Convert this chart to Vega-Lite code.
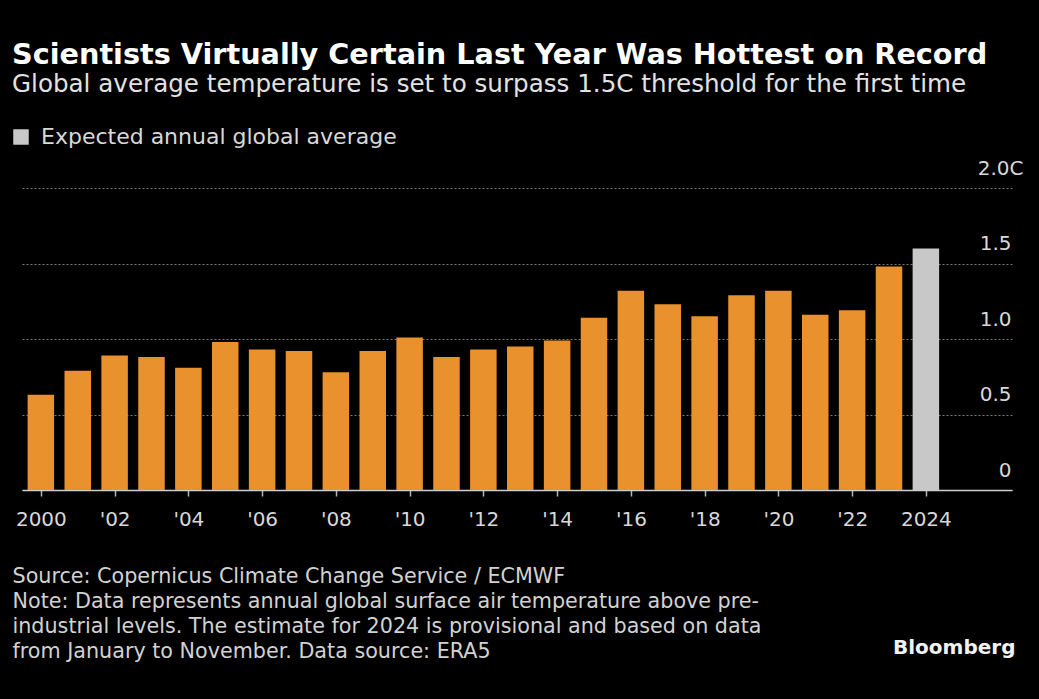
{
  "$schema": "https://vega.github.io/schema/vega-lite/v6.json",
  "width": 990,
  "height": 302,
  "autosize": {"type": "none"},
  "padding": {"left": 22, "top": 188, "right": 27, "bottom": 209},
  "background": "#000000",
  "title": {
    "text": "Scientists Virtually Certain Last Year Was Hottest on Record",
    "subtitle": "Global average temperature is set to surpass 1.5C threshold for the first time",
    "anchor": "start",
    "frame": "group",
    "dx": -10,
    "offset": 29,
    "font": "DejaVu Sans",
    "fontSize": 28.7,
    "fontWeight": "bold",
    "color": "#ffffff",
    "subtitleFont": "DejaVu Sans",
    "subtitleFontSize": 24.6,
    "subtitleColor": "#e2e2e2",
    "subtitlePadding": 4
  },
  "data": {
    "values": [
      {"year": 2000, "temp": 0.63, "kind": "Actual"},
      {"year": 2001, "temp": 0.79, "kind": "Actual"},
      {"year": 2002, "temp": 0.89, "kind": "Actual"},
      {"year": 2003, "temp": 0.88, "kind": "Actual"},
      {"year": 2004, "temp": 0.81, "kind": "Actual"},
      {"year": 2005, "temp": 0.98, "kind": "Actual"},
      {"year": 2006, "temp": 0.93, "kind": "Actual"},
      {"year": 2007, "temp": 0.92, "kind": "Actual"},
      {"year": 2008, "temp": 0.78, "kind": "Actual"},
      {"year": 2009, "temp": 0.92, "kind": "Actual"},
      {"year": 2010, "temp": 1.01, "kind": "Actual"},
      {"year": 2011, "temp": 0.88, "kind": "Actual"},
      {"year": 2012, "temp": 0.93, "kind": "Actual"},
      {"year": 2013, "temp": 0.95, "kind": "Actual"},
      {"year": 2014, "temp": 0.99, "kind": "Actual"},
      {"year": 2015, "temp": 1.14, "kind": "Actual"},
      {"year": 2016, "temp": 1.32, "kind": "Actual"},
      {"year": 2017, "temp": 1.23, "kind": "Actual"},
      {"year": 2018, "temp": 1.15, "kind": "Actual"},
      {"year": 2019, "temp": 1.29, "kind": "Actual"},
      {"year": 2020, "temp": 1.32, "kind": "Actual"},
      {"year": 2021, "temp": 1.16, "kind": "Actual"},
      {"year": 2022, "temp": 1.19, "kind": "Actual"},
      {"year": 2023, "temp": 1.48, "kind": "Actual"},
      {"year": 2024, "temp": 1.60, "kind": "Expected annual global average"}
    ]
  },
  "mark": {"type": "bar", "width": 26.5},
  "encoding": {
    "x": {
      "field": "year",
      "type": "quantitative",
      "scale": {"domain": [1999.624, 2026.2], "nice": false, "zero": false},
      "axis": {
        "values": [2000, 2002, 2004, 2006, 2008, 2010, 2012, 2014, 2016, 2018, 2020, 2022, 2024],
        "labelExpr": "datum.value == 2000 || datum.value == 2024 ? toString(datum.value) : \"'\" + substring(toString(datum.value), 2, 4)",
        "grid": false,
        "domainColor": "#cfcfcf",
        "domainWidth": 1.5,
        "tickColor": "#b5b5b5",
        "tickWidth": 1.5,
        "tickSize": 6,
        "labelFont": "DejaVu Sans",
        "labelFontSize": 20,
        "labelColor": "#d8d8d8",
        "labelPadding": 13,
        "labelFlush": false,
        "labelOverlap": false,
        "title": [
          "Source: Copernicus Climate Change Service / ECMWF",
          "Note: Data represents annual global surface air temperature above pre-",
          "industrial levels. The estimate for 2024 is provisional and based on data",
          "from January to November. Data source: ERA5"
        ],
        "titleFont": "DejaVu Sans",
        "titleFontSize": 20.7,
        "titleFontWeight": "normal",
        "titleColor": "#d2d2d2",
        "titleLineHeight": 25,
        "titleAnchor": "start",
        "titleAlign": "left",
        "titleBaseline": "top",
        "titleX": -10,
        "titleY": 76
      }
    },
    "y": {
      "field": "temp",
      "type": "quantitative",
      "scale": {"domain": [0, 2], "nice": false},
      "axis": {
        "orient": "right",
        "values": [0, 0.5, 1, 1.5, 2],
        "labelExpr": "datum.value == 2 ? '2.0C' : datum.value == 0 ? '0' : format(datum.value, '.1f')",
        "domain": false,
        "ticks": false,
        "grid": true,
        "gridColor": "#7a7a7a",
        "gridDash": [2, 2],
        "gridWidth": 1,
        "labelAlign": "right",
        "labelBaseline": "alphabetic",
        "labelOffset": -14,
        "labelPadding": {"condition": {"test": "datum.value == 2", "value": 11}, "value": -1},
        "labelFont": "DejaVu Sans",
        "labelFontSize": 20,
        "labelColor": "#d8d8d8",
        "labelFlush": false,
        "title": "Bloomberg",
        "titleFont": "DejaVu Sans",
        "titleFontSize": 20,
        "titleFontWeight": "bold",
        "titleColor": "#f2f2f2",
        "titleAngle": 0,
        "titleAlign": "right",
        "titleBaseline": "middle",
        "titleX": 3,
        "titleY": 459
      }
    },
    "color": {
      "field": "kind",
      "type": "nominal",
      "scale": {
        "domain": ["Actual", "Expected annual global average"],
        "range": ["#E8912D", "#C8C8C8"]
      },
      "legend": {
        "values": ["Expected annual global average"],
        "title": null,
        "orient": "none",
        "legendX": -12,
        "legendY": -62,
        "symbolType": "square",
        "symbolSize": 240,
        "symbolStrokeWidth": 0,
        "symbolOpacity": 1,
        "labelFont": "DejaVu Sans",
        "labelFontSize": 22,
        "labelColor": "#d8d8d8",
        "labelOffset": 9,
        "labelLimit": 500
      }
    }
  },
  "config": {
    "view": {"stroke": null}
  }
}
